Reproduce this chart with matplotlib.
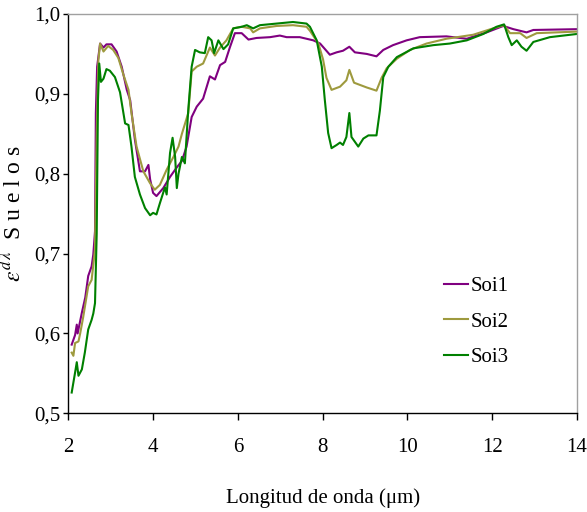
#!/usr/bin/env python3
# -*- coding: utf-8 -*-
"""
Emisividad espectral de suelos (Soi1, Soi2, Soi3) entre 2 y 14 micras
"""

import matplotlib
matplotlib.use('Agg')
import matplotlib.pyplot as plt
from matplotlib.ticker import FuncFormatter

# Soi1 (purple)
soi1_wl = [2.08, 2.16, 2.20, 2.22, 2.32, 2.40, 2.47, 2.55, 2.59, 2.63, 2.65, 2.68,
           2.75, 2.83, 2.90, 3.02, 3.14, 3.26, 3.38, 3.46, 3.57, 3.69, 3.81, 3.89,
           3.93, 4.00, 4.08, 4.24, 4.40, 4.56, 4.68, 4.79, 4.91, 5.03, 5.18, 5.34,
           5.46, 5.58, 5.70, 5.81, 5.93, 6.09, 6.25, 6.44, 6.76, 6.99, 7.15, 7.46,
           7.78, 7.94, 8.17, 8.33, 8.48, 8.63, 8.76, 9.04, 9.27, 9.43, 9.66, 9.98,
           10.29, 10.92, 11.40, 11.87, 12.26, 12.50, 12.81, 12.97, 14.00]
soi1_em = [0.586, 0.598, 0.611, 0.600, 0.626, 0.645, 0.672, 0.684, 0.699, 0.728, 0.876, 0.934,
           0.963, 0.958, 0.962, 0.962, 0.953, 0.934, 0.905, 0.892, 0.843, 0.803, 0.803, 0.811,
           0.793, 0.776, 0.772, 0.782, 0.796, 0.808, 0.816, 0.834, 0.871, 0.884, 0.894, 0.922,
           0.918, 0.936, 0.940, 0.958, 0.976, 0.976, 0.968, 0.970, 0.971, 0.973, 0.971, 0.971,
           0.967, 0.963, 0.949, 0.952, 0.954, 0.959, 0.952, 0.950, 0.947, 0.955, 0.961, 0.967,
           0.971, 0.972, 0.969, 0.977, 0.985, 0.981, 0.977, 0.980, 0.981]

# Soi2 (olive)
soi2_wl = [2.08, 2.12, 2.16, 2.24, 2.28, 2.35, 2.47, 2.55, 2.63, 2.67, 2.71, 2.75,
           2.83, 2.94, 3.06, 3.18, 3.30, 3.42, 3.49, 3.61, 3.77, 3.93, 4.04, 4.16,
           4.32, 4.48, 4.60, 4.68, 4.83, 4.91, 5.03, 5.18, 5.34, 5.46, 5.58, 5.73,
           5.89, 6.09, 6.29, 6.36, 6.52, 6.91, 7.30, 7.62, 7.70, 7.90, 8.01, 8.09,
           8.21, 8.41, 8.56, 8.63, 8.74, 9.04, 9.27, 9.39, 9.51, 9.75, 10.06, 10.45,
           10.92, 11.55, 12.02, 12.28, 12.42, 12.66, 12.81, 13.05, 14.00]
soi2_em = [0.576, 0.572, 0.588, 0.590, 0.600, 0.620, 0.659, 0.667, 0.705, 0.850, 0.942, 0.963,
           0.953, 0.960, 0.955, 0.945, 0.924, 0.905, 0.876, 0.834, 0.803, 0.788, 0.780, 0.786,
           0.805, 0.821, 0.834, 0.850, 0.876, 0.928, 0.934, 0.938, 0.958, 0.948, 0.958, 0.967,
           0.982, 0.984, 0.982, 0.977, 0.982, 0.985, 0.986, 0.984, 0.979, 0.963, 0.943, 0.920,
           0.905, 0.909, 0.917, 0.930, 0.914, 0.908, 0.904, 0.920, 0.932, 0.944, 0.955, 0.963,
           0.969, 0.974, 0.982, 0.986, 0.976, 0.976, 0.970, 0.976, 0.978]

# Soi3 (green)
soi3_wl = [2.08, 2.16, 2.20, 2.24, 2.32, 2.39, 2.47, 2.55, 2.59, 2.63, 2.67, 2.70,
           2.73, 2.77, 2.83, 2.90, 2.98, 3.10, 3.22, 3.34, 3.42, 3.49, 3.57, 3.69,
           3.81, 3.93, 4.00, 4.08, 4.16, 4.28, 4.32, 4.40, 4.46, 4.52, 4.56, 4.60,
           4.68, 4.75, 4.83, 4.91, 4.99, 5.10, 5.22, 5.30, 5.38, 5.44, 5.54, 5.66,
           5.77, 5.89, 6.09, 6.21, 6.36, 6.52, 6.91, 7.30, 7.62, 7.70, 7.86, 7.98,
           8.05, 8.13, 8.21, 8.33, 8.41, 8.48, 8.56, 8.63, 8.68, 8.76, 8.84, 8.96,
           9.08, 9.27, 9.35, 9.43, 9.55, 9.75, 10.14, 10.61, 11.00, 11.40, 11.79, 12.10,
           12.28, 12.38, 12.46, 12.58, 12.69, 12.81, 12.97, 13.36, 14.00]
soi3_em = [0.526, 0.551, 0.564, 0.547, 0.555, 0.576, 0.605, 0.617, 0.625, 0.638, 0.725, 0.892,
           0.938, 0.915, 0.919, 0.931, 0.929, 0.921, 0.902, 0.863, 0.861, 0.834, 0.796, 0.774,
           0.757, 0.748, 0.751, 0.749, 0.763, 0.783, 0.774, 0.826, 0.845, 0.821, 0.782, 0.800,
           0.821, 0.813, 0.880, 0.934, 0.955, 0.952, 0.951, 0.971, 0.967, 0.951, 0.967, 0.956,
           0.962, 0.982, 0.984, 0.986, 0.982, 0.986, 0.988, 0.990, 0.988, 0.984, 0.967, 0.934,
           0.893, 0.851, 0.832, 0.836, 0.839, 0.836, 0.846, 0.876, 0.846, 0.840, 0.834, 0.844,
           0.848, 0.848, 0.879, 0.921, 0.934, 0.946, 0.957, 0.961, 0.963, 0.967, 0.975, 0.984,
           0.987, 0.971, 0.961, 0.967, 0.959, 0.954, 0.965, 0.971, 0.975]

series = [
    ('Soi1', soi1_wl, soi1_em, '#800080'),
    ('Soi2', soi2_wl, soi2_em, '#9E9A3E'),
    ('Soi3', soi3_wl, soi3_em, '#008000'),
]

x_ticks = [2, 4, 6, 8, 10, 12, 14]
y_ticks = [0.5, 0.6, 0.7, 0.8, 0.9, 1.0]


def create_plot():
    plt.rcParams['font.family'] = ['Liberation Serif', 'DejaVu Serif']
    plt.rcParams['mathtext.fontset'] = 'stix'

    fig = plt.figure(figsize=(5.87, 5.12), dpi=100)
    ax = fig.add_axes([68.3 / 587, 1 - 413.3 / 512, (577 - 68.3) / 587, (413.3 - 14) / 512])

    for name, wl, em, color in series:
        ax.plot(wl, em, color=color, linewidth=1.5, label=name)

    ax.set_xlim(2, 14)
    ax.set_ylim(0.5, 1.0)
    ax.set_xticks(x_ticks)
    ax.set_yticks(y_ticks)
    ax.yaxis.set_major_formatter(FuncFormatter(lambda v, p: f'{v:.1f}'.replace('.', ',')))

    ax.tick_params(axis='x', direction='out', length=5, width=1, pad=13, labelsize=15)
    ax.tick_params(axis='y', direction='out', length=3.6, width=1, pad=2, labelsize=15)

    for side in ['top', 'right']:
        ax.spines[side].set_color('#A0A0A0')
        ax.spines[side].set_linewidth(1)
    for side in ['left', 'bottom']:
        ax.spines[side].set_color('black')
        ax.spines[side].set_linewidth(1)

    ax.set_xlabel('Longitud de onda (μm)', fontsize=15, labelpad=22)
    ax.set_ylabel(r'$\varepsilon^{d\,\lambda}$  S u e l o s', fontsize=17, labelpad=6)

    ax.legend(loc='upper left', bbox_to_anchor=(0.7386, 0.342), frameon=False,
              fontsize=15, handlelength=1.15, handletextpad=0.15, labelspacing=0.76,
              borderpad=0, borderaxespad=0)

    fig.savefig('out.png', dpi=100)
    plt.close(fig)


if __name__ == "__main__":
    create_plot()
